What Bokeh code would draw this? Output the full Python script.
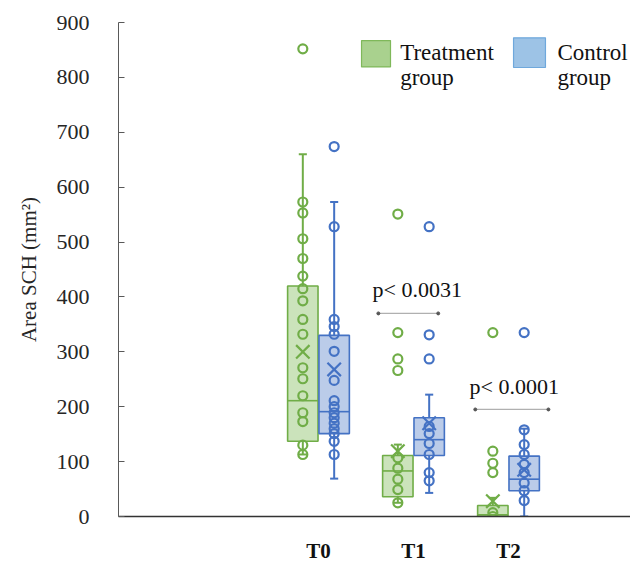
from bokeh.plotting import figure
from bokeh.models import Range1d, FixedTicker
from bokeh.core.properties import value
from bokeh.embed import file_html
from bokeh.resources import INLINE

# ---------------- data ----------------
categories = ["T0", "T1", "T2"]

# Treatment group box statistics
treat_q1 = [137, 36, 0]
treat_med = [211, 83, 3]
treat_q3 = [420, 111, 20]
treat_lo = [113, 25, 0]
treat_hi = [660, 131, 34]
treat_mean = [300, 119, 28]

# Control group box statistics
ctrl_q1 = [151, 111, 47]
ctrl_med = [191, 140, 68]
ctrl_q3 = [330, 180, 110]
ctrl_lo = [69, 43, 0]
ctrl_hi = [573, 222, 160]
ctrl_mean = [268, 170, 85]

# individual points
treat_T0 = [852, 573, 553, 506, 470, 438, 415, 393, 359, 332, 271, 251, 220, 189, 173, 130, 113]
treat_T1 = [551, 335, 287, 266, 107, 88, 68, 49, 25]
treat_T2 = [335, 119, 97, 80, 7, 0]
ctrl_T0 = [674, 528, 359, 346, 332, 301, 248, 211, 200, 189, 180, 170, 160, 151, 137, 113]
ctrl_T1 = [528, 331, 287, 164, 151, 133, 113, 80, 65]
ctrl_T2 = [335, 158, 131, 113, 95, 80, 61, 47, 29]

p_labels = ["p< 0.0031", "p< 0.0001"]
p_label_y = [413, 236]
p_line_y = [370, 195]
p_pair_cat = [2, 3]

# ---------------- styling ----------------
FONT = "Liberation Serif"
G_LINE, G_FILL = "#70ad47", "#a9d18e"
B_LINE, B_FILL = "#4472c4", "#8eaadb"
OFFSET, BW, CAP = 0.165, 0.32, 0.085

p = figure(width=630, height=565, output_backend="svg", toolbar_location=None,
           x_range=Range1d(-1.105, 4.284), y_range=Range1d(0, 900),
           min_border_left=118, min_border_right=0, min_border_top=22, min_border_bottom=44)
p.outline_line_color = None
p.xgrid.visible = False
p.ygrid.visible = False
p.background_fill_color = "white"

xc = [i + 1 for i in range(len(categories))]


def draw_group(sign, q1, med, q3, lo, hi, mean, pts_lists, lc, fc):
    xs = [x + sign * OFFSET for x in xc]
    # whiskers
    p.segment(x0=xs, x1=xs, y0=q3, y1=hi, line_color=lc, line_width=2)
    p.segment(x0=xs, x1=xs, y0=q1, y1=lo, line_color=lc, line_width=2)
    p.segment(x0=[x - CAP / 2 for x in xs], x1=[x + CAP / 2 for x in xs], y0=hi, y1=hi,
              line_color=lc, line_width=2)
    p.segment(x0=[x - CAP / 2 for x in xs], x1=[x + CAP / 2 for x in xs], y0=lo, y1=lo,
              line_color=lc, line_width=2)
    # box
    p.vbar(x=xs, bottom=q1, top=q3, width=BW, fill_color=fc, fill_alpha=0.6,
           line_color=lc, line_width=1.6)
    p.segment(x0=[x - BW / 2 for x in xs], x1=[x + BW / 2 for x in xs], y0=med, y1=med,
              line_color=lc, line_width=1.6)
    # points
    px, py = [], []
    for x, pts in zip(xs, pts_lists):
        px += [x] * len(pts)
        py += pts
    p.scatter(x=px, y=py, marker="circle", size=9, fill_color=None, line_color=lc, line_width=2.2)
    # mean
    p.scatter(x=xs, y=mean, marker="x", size=19, line_color=lc, line_width=2.2)


draw_group(-1, treat_q1, treat_med, treat_q3, treat_lo, treat_hi, treat_mean,
           [treat_T0, treat_T1, treat_T2], G_LINE, G_FILL)
draw_group(1, ctrl_q1, ctrl_med, ctrl_q3, ctrl_lo, ctrl_hi, ctrl_mean,
           [ctrl_T0, ctrl_T1, ctrl_T2], B_LINE, B_FILL)

# p-value annotations
lx0 = [p_pair_cat[0] - 0.37, p_pair_cat[1] - 0.35]
lx1 = [p_pair_cat[0] + 0.26, p_pair_cat[1] + 0.42]
p.segment(x0=lx0, x1=lx1, y0=p_line_y, y1=p_line_y, line_color="#b0b0b0", line_width=1.2)
p.scatter(x=lx0 + lx1, y=p_line_y + p_line_y, marker="circle", size=3,
          fill_color="#555555", line_color="#555555")
p.text(x=[p_pair_cat[0] + 0.04, p_pair_cat[1] + 0.06], y=p_label_y, text=p_labels,
       text_font=value(FONT), text_font_size="22px", text_color="#111111",
       text_align="center", text_baseline="middle")

# legend (drawn manually for two-line labels)
p.quad(left=[1.453], right=[1.758], top=[867], bottom=[819], fill_color="#a9d18e",
       line_color="#7fb85a", line_width=1.2)
p.quad(left=[3.053], right=[3.389], top=[872], bottom=[818], fill_color="#9dc3e6",
       line_color="#6fa8dc", line_width=1.2)
p.text(x=[1.86, 1.86, 3.515, 3.515], y=[846, 799, 846, 799],
       text=["Treatment", "group", "Control", "group"],
       text_font=value(FONT), text_font_size="23px", text_color="#111111",
       text_align="left", text_baseline="alphabetic")

# axes
p.yaxis.ticker = FixedTicker(ticks=list(range(0, 1000, 100)))
p.yaxis.major_tick_in = 6
p.yaxis.major_tick_out = 0
p.yaxis.minor_tick_line_color = None
p.yaxis.axis_line_color = "#595959"
p.yaxis.major_tick_line_color = "#595959"
p.yaxis.major_label_text_font = FONT
p.yaxis.major_label_text_font_size = "22px"
p.yaxis.major_label_text_color = "#262626"
p.yaxis.major_label_standoff = 29
p.yaxis.axis_label = "Area SCH (mm²)"
p.yaxis.axis_label_text_font = FONT
p.yaxis.axis_label_text_font_size = "21px"
p.yaxis.axis_label_text_font_style = "normal"
p.yaxis.axis_label_text_color = "#262626"
p.yaxis.axis_label_standoff = 13

p.xaxis.ticker = FixedTicker(ticks=xc)
p.xaxis.major_label_overrides = {i + 1: c for i, c in enumerate(categories)}
p.xaxis.major_tick_line_color = None
p.xaxis.minor_tick_line_color = None
p.xaxis.axis_line_color = "#333333"
p.xaxis.axis_line_width = 1.6
p.xaxis.major_label_text_font = FONT
p.xaxis.major_label_text_font_size = "21px"
p.xaxis.major_label_text_font_style = "bold"
p.xaxis.major_label_text_color = "#111111"
p.xaxis.major_label_standoff = 16

open("out.html", "w").write(file_html(p, INLINE))
